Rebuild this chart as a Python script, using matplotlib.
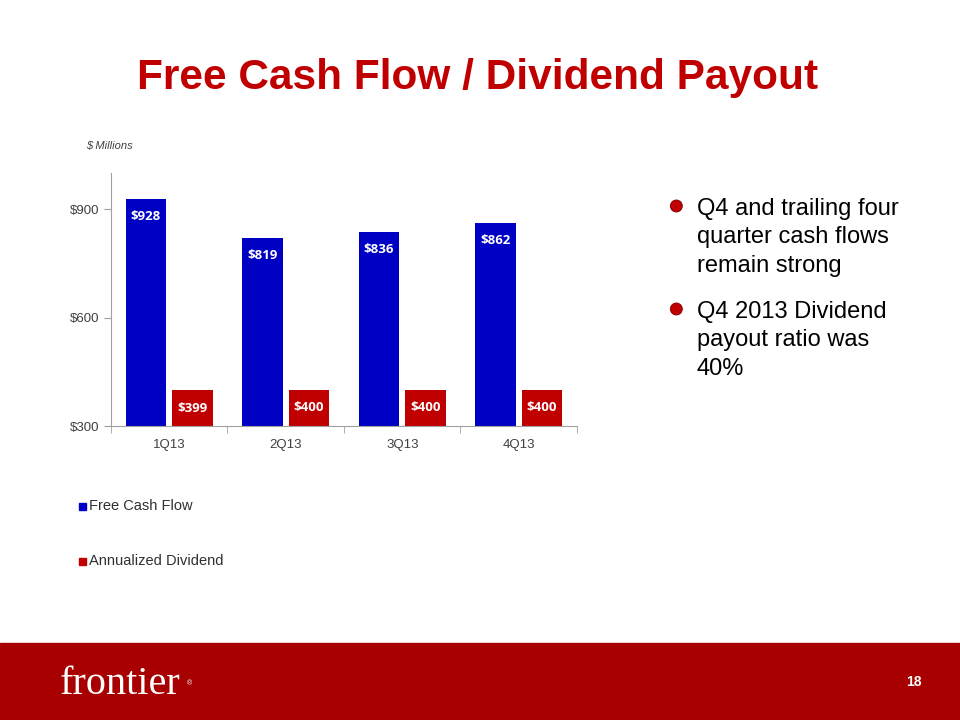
import matplotlib
matplotlib.use('Agg')
import matplotlib.pyplot as plt
from matplotlib.patches import Rectangle, Ellipse
import numpy as np

# ─── Data ───
quarters = ['1Q13', '2Q13', '3Q13', '4Q13']
free_cash_flow = [928, 819, 836, 862]
annualized_dividend = [399, 400, 400, 400]
y_ticks = [300, 600, 900]
series_names = ['Free Cash Flow', 'Annualized Dividend']
bullets = [['Q4 and trailing four', 'quarter cash flows', 'remain strong'],
           ['Q4 2013 Dividend', 'payout ratio was', '40%']]

BLUE = '#0000C4'
RED = '#C00000'
TITLE_RED = '#C00000'
FOOTER_RED = '#A80000'

fig = plt.figure(figsize=(9.6, 7.2), dpi=100)
fig.patch.set_facecolor('white')

# ─── Title ───
fig.text(0.497, 0.876, 'Free Cash Flow / Dividend Payout', ha='center', va='baseline',
         fontsize=30.5, fontweight='bold', color=TITLE_RED, family='Liberation Sans')

# ─── Chart ───
ax = fig.add_axes([0.1156, 0.4083, 0.4854, 0.3514])
x = np.arange(len(quarters))
width = 0.35
ax.bar(x - 0.2, [v - 300 for v in free_cash_flow], width, bottom=300, color=BLUE)
ax.bar(x + 0.2, [v - 300 for v in annualized_dividend], width, bottom=300, color=RED)
for i, v in enumerate(free_cash_flow):
    ax.text(x[i] - 0.2, v - 48, f'${v}', ha='center', va='center', color='white',
            fontsize=9.5, fontweight='bold', family='Open Sans')
for i, v in enumerate(annualized_dividend):
    ax.text(x[i] + 0.2, v - 50, f'${v}', ha='center', va='center', color='white',
            fontsize=9.5, fontweight='bold', family='Open Sans')

ax.set_xlim(-0.5, len(quarters) - 0.5)
ax.set_ylim(300, 1000)
ax.set_yticks(y_ticks)
ax.set_yticklabels([f'${t}' for t in y_ticks], fontsize=9.5, color='#404040', family='Liberation Sans')
ax.set_xticks(x)
ax.set_xticklabels(quarters, fontsize=9.5, color='#404040', family='Liberation Sans')
ax.set_xticks(np.arange(len(quarters) + 1) - 0.5, minor=True)
ax.tick_params(axis='x', which='major', length=0, pad=9)
ax.tick_params(axis='x', which='minor', length=5, color='#A0A0A0')
ax.tick_params(axis='y', length=5, color='#A0A0A0', pad=3)
for s in ['top', 'right']:
    ax.spines[s].set_visible(False)
for s in ['left', 'bottom']:
    ax.spines[s].set_color('#A0A0A0')

fig.text(0.09, 0.797, '$ Millions', fontsize=8, style='italic', color='#404040',
         family='Liberation Sans', va='center')

# ─── Legend ───
for (yy, name, col) in [(0.297, series_names[0], BLUE), (0.221, series_names[1], RED)]:
    fig.patches.append(Rectangle((0.0825, yy - 0.0055), 0.0075, 0.01, transform=fig.transFigure,
                                 color=col))
    fig.text(0.093, yy, name, fontsize=10.5, color='#303030', va='center', family='Liberation Sans')

# ─── Bullets ───
line_step = 28.5 / 720
for (yy, lines) in [(1 - 215 / 720, bullets[0]), (1 - 318 / 720, bullets[1])]:
    fig.patches.append(Ellipse((0.7045, yy + 0.0125), 0.0125, 0.0167, transform=fig.transFigure,
                               facecolor='#C00000', edgecolor='#800000', lw=0.6))
    for k, line in enumerate(lines):
        fig.text(0.726, yy - k * line_step, line, fontsize=17, color='black', va='baseline',
                 family='Liberation Sans')

# ─── Footer ───
fig.patches.append(Rectangle((0, 0), 1, 0.107, transform=fig.transFigure, color=FOOTER_RED))
fig.text(0.062, 0.036, 'frontier', fontsize=29, color='white', va='baseline',
         family='Liberation Serif')
fig.text(0.195, 0.048, '®', fontsize=5, color='white', va='baseline', family='Liberation Sans')
fig.text(0.952, 0.053, '18', fontsize=10, fontweight='bold', color='white', ha='center',
         va='center', family='Liberation Sans')

plt.savefig('out.png', dpi=100)
